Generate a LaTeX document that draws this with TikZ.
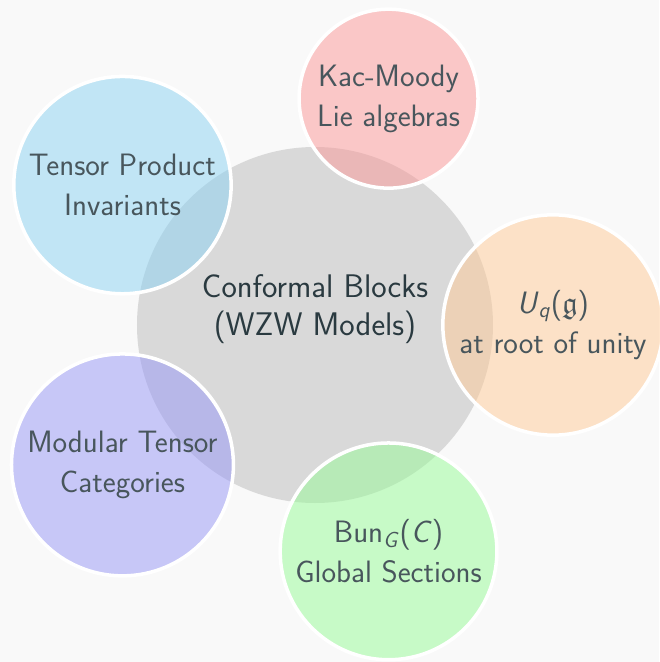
\documentclass[tikz,border=0pt]{standalone}
\usepackage{amsmath,amssymb}

\definecolor{bgcol}{RGB}{249,249,249}
\definecolor{inkdark}{RGB}{42,58,64}
\definecolor{inkmid}{RGB}{72,86,92}
\definecolor{petalred}{RGB}{251,151,151}
\definecolor{petalorange}{RGB}{255,203,151}
\definecolor{petalgreen}{RGB}{151,251,151}
\definecolor{petalviolet}{RGB}{151,151,247}
\definecolor{petalblue}{RGB}{139,211,243}

\begin{document}
\begin{tikzpicture}[
    hub/.style={circle, fill=gray!30, minimum size=7.12cm},
    hubtext/.style={align=center, text=inkdark,
        font=\sffamily\fontsize{18.6}{21.8}\selectfont},
    petal/.style={circle, draw=white, line width=2pt, fill opacity=0.5,
        text opacity=1, inner sep=0.16cm, align=center,
        text=inkmid, font=\sffamily\fontsize{17.6}{22.8}\selectfont}
]

    \def\reach{4.76}

    \fill[bgcol] (-6.3,-6.74) rectangle (6.88,6.5);
    \useasboundingbox (-6.3,-6.74) rectangle (6.88,6.5);

    \node[hub] (wzw) at (0,0) {};
    \node[hubtext] (wzwlabel) at ([yshift=0.32cm]wzw.center)
        {Conformal Blocks\\(WZW Models)};

    \foreach \ang/\name/\col/\txt in {
        72/kacmoody/petalred/{Kac-Moody\\Lie algebras},
        0/quantum/petalorange/{\textit{U}\textsubscript{\textit{q}}($\mathfrak{g}$)\\at root of unity},
        -72/bundles/petalgreen/{Bun\textsubscript{\textit{G}}(\textit{C})\\Global Sections},
        216/mtc/petalviolet/{Modular Tensor\\Categories},
        144/invariants/petalblue/{Tensor Product\\Invariants}} {
        \node[petal, fill=\col] (\name) at (\ang:\reach) {\txt};
    }

\end{tikzpicture}
\end{document}
